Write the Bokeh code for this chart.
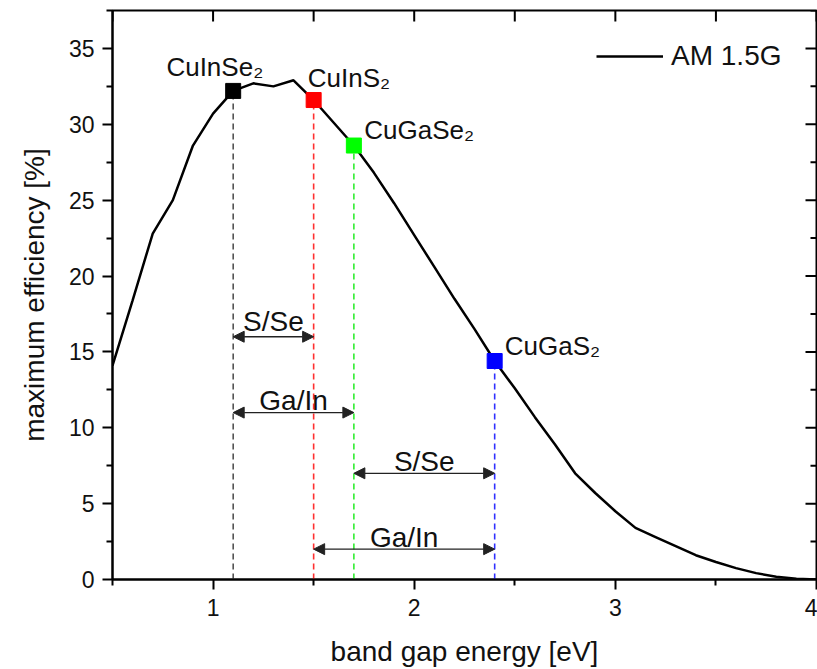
import math
from bokeh.plotting import figure
from bokeh.models import (Range1d, FixedTicker, Arrow, NormalHead,
                          Legend, LegendItem, ColumnDataSource, Title)
from bokeh.core.properties import value
from bokeh.embed import file_html
from bokeh.resources import INLINE

# ---- data ----
bandgap = [0.5, 0.6, 0.7, 0.8, 0.9, 1.0, 1.1, 1.2, 1.3, 1.4, 1.5, 1.6, 1.7, 1.8,
           1.9, 2.0, 2.1, 2.2, 2.3, 2.4, 2.5, 2.6, 2.7, 2.8, 2.9, 3.0, 3.1, 3.2,
           3.3, 3.4, 3.5, 3.6, 3.7, 3.8, 3.9, 4.0]
efficiency = [14.1, 18.4, 22.8, 25.0, 28.6, 30.7, 32.2, 32.7, 32.5, 32.9, 31.6,
              30.1, 28.6, 26.8, 24.8, 22.7, 20.6, 18.5, 16.5, 14.4, 12.6, 10.7,
              8.9, 7.0, 5.7, 4.5, 3.4, 2.8, 2.2, 1.6, 1.15, 0.75, 0.42, 0.18,
              0.05, 0.0]

materials = ["CuInSe\u2082", "CuInS\u2082", "CuGaSe\u2082", "CuGaS\u2082"]
mat_gap = [1.1, 1.5, 1.7, 2.4]
mat_eff = [32.2, 31.6, 28.6, 14.4]

arrow_from = [1.1, 1.1, 1.7, 1.5]
arrow_to = [1.5, 1.7, 2.4, 2.4]
arrow_level = [16.0, 11.0, 7.0, 2.0]
arrow_text = ["S/Se", "Ga/In", "S/Se", "Ga/In"]

x_ticks = [1, 2, 3, 4]
x_minor = [0.5, 1.5, 2.5, 3.5]
y_ticks = [0, 5, 10, 15, 20, 25, 30, 35]
y_minor = [2.5, 7.5, 12.5, 17.5, 22.5, 27.5, 32.5, 37.5]

X_MIN, X_MAX = 0.5, 4.0
Y_MIN, Y_MAX = 0.0, 37.5

# ---- styles / positions ----
FONT = "Liberation Sans"
TXT = "#111111"
marker_colors = ["#000000", "#ff0000", "#00ff00", "#0000ff"]
dash_colors = ["#555555", "#ff3030", "#30ee30", "#3030ff"]
label_x = [0.768, 1.471, 1.752, 2.45]
label_y = [33.8, 33.05, 29.65, 15.4]
arrow_label_y = [17.0, 11.8, 7.8, 2.75]

p = figure(width=817, height=669, output_backend="svg", toolbar_location=None,
           x_range=Range1d(X_MIN, X_MAX), y_range=Range1d(Y_MIN, Y_MAX),
           min_border_left=111, min_border_right=1, min_border_top=10,
           min_border_bottom=90)
p.grid.visible = False
p.outline_line_color = "black"
p.outline_line_width = 2
p.background_fill_color = "white"

# axes
p.xaxis.ticker = FixedTicker(ticks=x_ticks, minor_ticks=x_minor)
p.yaxis.ticker = FixedTicker(ticks=y_ticks, minor_ticks=y_minor)

for ax in list(p.xaxis) + list(p.yaxis):
    ax.axis_line_width = 2
    ax.major_tick_line_width = 2
    ax.minor_tick_line_width = 2
    ax.major_tick_in = 0
    ax.minor_tick_in = 0
    ax.major_tick_out = 10
    ax.minor_tick_out = 6
    ax.major_label_text_font = FONT
    ax.major_label_text_font_size = "23px"
    ax.major_label_text_color = TXT
    ax.axis_label_text_font = FONT
    ax.axis_label_text_font_size = "28px"
    ax.axis_label_text_font_style = "normal"
    ax.axis_label_text_color = TXT

p.xaxis.axis_label = "band gap energy [eV]"
p.xaxis.major_label_standoff = 9
p.xaxis.axis_label_standoff = 17
p.yaxis.major_label_standoff = 8

# y-axis title (slightly above the frame centre, as in the reference)
p.add_layout(Title(text="maximum efficiency [%]", align="center", offset=16,
                   standoff=32, text_font=FONT, text_font_size="28px",
                   text_font_style="normal", text_color=TXT), "left")

# mirrored inward ticks on the top and right frame edges (clipped to frame)
top_t = x_ticks + x_minor
p.scatter(top_t, [Y_MAX] * len(top_t), marker="dash", angle=math.pi / 2,
          size=22, line_color="black", line_width=2)
p.scatter([X_MAX] * len(y_ticks), y_ticks, marker="dash", size=22,
          line_color="black", line_width=2)
p.scatter([X_MAX] * len(y_minor), y_minor, marker="dash", size=12,
          line_color="black", line_width=2)

# dashed drop lines
drop = ColumnDataSource(dict(x=mat_gap, y0=[Y_MIN] * len(mat_gap), y1=mat_eff,
                             c=dash_colors))
p.segment(x0="x", y0="y0", x1="x", y1="y1", line_color="c", line_width=1.6,
          line_dash="6 4", source=drop)

# curve
curve = p.line(bandgap, efficiency, line_color="black", line_width=2.5)

# markers
p.scatter(mat_gap, mat_eff, marker="square", size=15, fill_color=marker_colors,
          line_color=marker_colors)

# compound labels
p.text(label_x, label_y, text=materials, text_font=value(FONT),
       text_font_size="26px", text_baseline="alphabetic", text_align="left",
       text_color=TXT)

# arrows
arr = ColumnDataSource(dict(x0=arrow_from, x1=arrow_to, y=arrow_level))
p.add_layout(Arrow(start=NormalHead(size=11, fill_color="#222222", line_color="#222222"),
                   end=NormalHead(size=11, fill_color="#222222", line_color="#222222"),
                   x_start="x0", y_start="y", x_end="x1", y_end="y",
                   line_width=1.3, line_color="#222222", source=arr))
mid = [(a + b) / 2 for a, b in zip(arrow_from, arrow_to)]
p.text(mid, arrow_label_y, text=arrow_text, text_font=value(FONT),
       text_font_size="28px", text_baseline="alphabetic", text_align="center",
       text_color=TXT)

legend = Legend(items=[LegendItem(label="AM 1.5G", renderers=[curve])],
                location=(484, 507), margin=0, padding=0,
                border_line_color=None, background_fill_alpha=0,
                label_text_font=FONT, label_text_font_size="28px",
                label_text_color=TXT, glyph_height=32, label_height=32,
                glyph_width=67, label_standoff=8)
p.add_layout(legend)

open("out.html", "w").write(file_html(p, INLINE))
